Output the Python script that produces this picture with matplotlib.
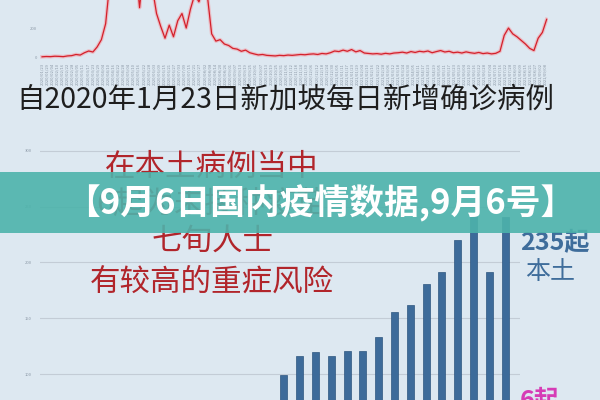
import numpy as np
import matplotlib
matplotlib.use("Agg")
import matplotlib.pyplot as plt
from matplotlib.patches import Rectangle
import datetime as dt

plt.rcParams['font.family'] = ['Noto Sans CJK SC', 'DejaVu Sans']

#%% data
# daily new cases in Singapore since 2020-01-23, one value every 5 days
daily_cases = [2, 4, 3, 6, 5, 3, 8, 10, 18, 14, 30, 42, 35, 70, 120, 230, 520, 900,
               1100, 950, 1000, 780, 650, 340, 620, 560, 480, 300, 210, 130, 220, 140,
               250, 300, 200, 330, 430, 380, 470, 420, 160, 110, 120, 90, 80, 60, 55,
               40, 48, 30, 22, 15, 18, 12, 10,
               8, 12, 10, 14, 12, 15, 18, 16, 20, 22, 18, 25, 22, 30, 42, 38, 48, 40,
               52, 36, 45, 28, 25, 22, 24, 20, 26, 22, 28, 30, 34, 28, 38, 32, 40, 36,
               42, 30, 38, 45, 35, 40, 30, 34, 28, 36, 30, 26, 32, 24, 28, 22, 26, 40,
               150, 200, 160, 140, 115, 90, 60, 45, 130, 170, 260]
start_day = dt.date(2020, 1, 23)
step_days = 5

# recent 15 days, cases per day
recent_days = ["8/23", "8/24", "8/25", "8/26", "8/27", "8/28", "8/29", "8/30",
               "8/31", "9/1", "9/2", "9/3", "9/4", "9/5", "9/6"]
recent_cases = [99, 116, 120, 116, 121, 121, 133, 156, 162, 181, 191, 220, 242, 191, 241]

title = "自2020年1月23日新加坡每日新增确诊病例"
note_lines = ["在本土病例当中", "6起为未接种疫苗", "七旬人士", "有较高的重症风险"]
banner = "【9月6日国内疫情数据,9月6号】"

#%% figure
W, H = 600, 400
fig = plt.figure(figsize=(6, 4), dpi=100, facecolor="#dde8f1")

def fy(px):
    return 1 - px / H

# top line chart
days = np.arange(len(daily_cases)) * step_days
ax1 = fig.add_axes([40 / W, fy(60), 508 / W, 60 / H])
ax1.set_facecolor("none")
ax1.plot(days, daily_cases, color="#f2a0a8", lw=2.6, alpha=0.6)
ax1.plot(days, daily_cases, color="#d4202a", lw=0.9)
ax1.set_xlim(-2.4, 596.6)
ax1.set_ylim(-20, 393)
for s in ax1.spines.values():
    s.set_visible(False)
ax1.set_yticks([0, 200])
ax1.set_yticklabels(["0", "200"], fontsize=3, color="#8a97a5")
tick_days = np.arange(0, 596, 6)
ax1.set_xticks(tick_days)
ax1.set_xticklabels([(start_day + dt.timedelta(days=int(d))).strftime("%Y/%m/%d") for d in tick_days],
                    rotation=90, fontsize=3, color="#8a97a5")
ax1.tick_params(length=0, pad=2)

fig.text(285 / W, fy(100), title, ha="center", va="center", fontsize=20.5, color="#1e1e1e")

# bottom bar chart
ax2 = fig.add_axes([40 / W, fy(485.6), 480 / W, 345.6 / H])
ax2.set_facecolor("none")
x = np.arange(len(recent_cases))
ax2.bar(x, recent_cases, width=0.44, color="#3d6b9a", edgecolor="#2e5680", lw=0.5, zorder=2)
ax2.set_xlim(-15.44, 14.94)
ax2.set_ylim(0, 309.7)
ax2.set_yticks([100, 150, 200, 250, 300])
ax2.set_yticklabels(["100", "150", "200", "250", "300"], fontsize=3, color="#8a97a5")
ax2.set_xticks([])
ax2.grid(axis="y", color="#c3ccd6", lw=0.8, zorder=0)
ax2.tick_params(length=0, pad=6)
for s in ax2.spines.values():
    s.set_visible(False)

# red note
for txt, ypx in zip(note_lines, [167, 204, 241, 282]):
    fig.text(212 / W, fy(ypx), txt, ha="center", va="center", fontsize=22,
             color="#b1252b", zorder=3)

fig.text(555 / W, fy(243), "235起", ha="center", va="center", fontsize=18,
         color="#3f6d9b", weight="bold")
fig.text(550 / W, fy(272), "本土", ha="center", va="center", fontsize=18, color="#3f6d9b")
fig.text(540 / W, fy(401), "6起", ha="center", va="center", fontsize=18,
         color="#d63cb6", weight="bold")

# banner
fig.add_artist(Rectangle((0, fy(233)), 1, 61 / H, transform=fig.transFigure,
                         facecolor="#4db3ab", alpha=0.9, lw=0, zorder=10))
fig.text(320 / W, fy(203), banner, ha="center", va="center", fontsize=25,
         color="white", weight="bold", zorder=11)

fig.savefig("out.png", dpi=100, facecolor=fig.get_facecolor())
